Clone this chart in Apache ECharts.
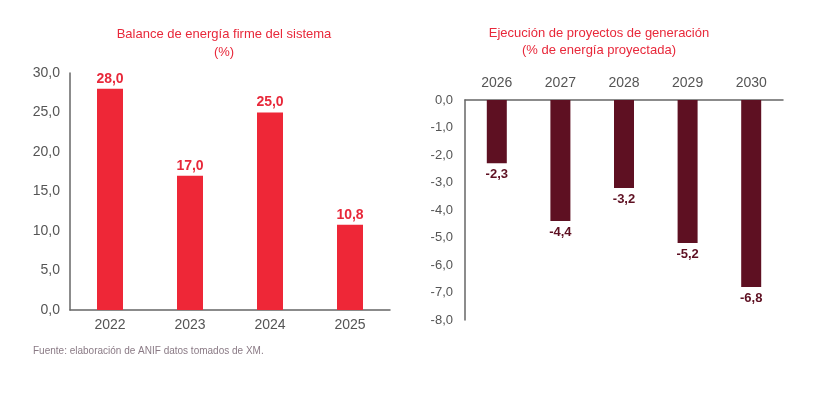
<!DOCTYPE html>
<html>
<head>
<meta charset="utf-8">
<script src="https://cdn.jsdelivr.net/npm/echarts@6/dist/echarts.min.js"></script>
<style>
  html, body { margin: 0; padding: 0; background: #fff; }
  #chart { width: 827px; height: 412px; }
</style>
</head>
<body>
<div id="chart"></div>
<script>
// datos
const balanceYears = ['2022', '2023', '2024', '2025'];
const balanceValues = [28.0, 17.0, 25.0, 10.8];
const ejecYears = ['2026', '2027', '2028', '2029', '2030'];
const ejecValues = [-2.3, -4.4, -3.2, -5.2, -6.8];

const fmt = v => Number(v).toFixed(1).replace('.', ',');
const FONT = '"Liberation Sans", Arial, sans-serif';
const axisColor = '#666';
const labelColor = '#555';

const chart = echarts.init(document.getElementById('chart'));
const titleStyle = { color: '#e8283a', fontSize: 13, fontWeight: 500, lineHeight: 18, fontFamily: FONT };
const option = {
  backgroundColor: '#fff',
  textStyle: { fontFamily: FONT },
  title: [
    {
      text: 'Balance de energía firme del sistema\n(%)',
      left: 219, top: 20, textAlign: 'center',
      textStyle: titleStyle
    },
    {
      text: 'Ejecución de proyectos de generación\n(% de energía proyectada)',
      left: 594, top: 20, textAlign: 'center',
      textStyle: Object.assign({}, titleStyle, { lineHeight: 17 })
    },
    {
      text: 'Fuente: elaboración de ANIF datos tomados de XM.',
      left: 28, top: 341,
      textStyle: { color: '#8a7a85', fontSize: 10, fontWeight: 'normal', fontFamily: FONT }
    }
  ],
  grid: [
    { left: 70, top: 73, width: 320, height: 237 },
    { left: 465, top: 100, width: 318, height: 220 }
  ],
  xAxis: [
    {
      gridIndex: 0, type: 'category', data: balanceYears,
      axisLine: { lineStyle: { color: axisColor, width: 1.5 } },
      axisTick: { show: false },
      axisLabel: { color: labelColor, fontSize: 14, margin: 8, fontFamily: FONT }
    },
    {
      gridIndex: 1, type: 'category', data: ejecYears, position: 'top',
      axisLine: { onZero: false, lineStyle: { color: axisColor, width: 1.5 } },
      axisTick: { show: false },
      axisLabel: { color: labelColor, fontSize: 14, margin: 10, fontFamily: FONT }
    }
  ],
  yAxis: [
    {
      gridIndex: 0, type: 'value', min: 0, max: 30, interval: 5,
      axisLine: { show: true, lineStyle: { color: axisColor, width: 1.5 } },
      axisTick: { show: false },
      splitLine: { show: false },
      axisLabel: { color: labelColor, fontSize: 14, margin: 10, formatter: fmt, fontFamily: FONT }
    },
    {
      gridIndex: 1, type: 'value', min: -8, max: 0, interval: 1,
      axisLine: { show: true, lineStyle: { color: axisColor, width: 1.5 } },
      axisTick: { show: false },
      splitLine: { show: false },
      axisLabel: { color: labelColor, fontSize: 13, margin: 12, formatter: fmt, fontFamily: FONT }
    }
  ],
  series: [
    {
      type: 'bar', xAxisIndex: 0, yAxisIndex: 0, data: balanceValues,
      barWidth: 26,
      itemStyle: { color: '#ee2737' },
      label: {
        show: true, position: 'top', distance: 3, formatter: p => fmt(p.value),
        color: '#e8283a', fontWeight: 'bold', fontSize: 14, fontFamily: FONT
      }
    },
    {
      type: 'bar', xAxisIndex: 1, yAxisIndex: 1, data: ejecValues,
      barWidth: 20,
      itemStyle: { color: '#5e1022' },
      label: {
        show: true, position: 'bottom', distance: 5, formatter: p => fmt(p.value),
        color: '#5e1022', fontWeight: 'bold', fontSize: 13, fontFamily: FONT
      }
    }
  ]
};
chart.setOption(option);
</script>
</body>
</html>
